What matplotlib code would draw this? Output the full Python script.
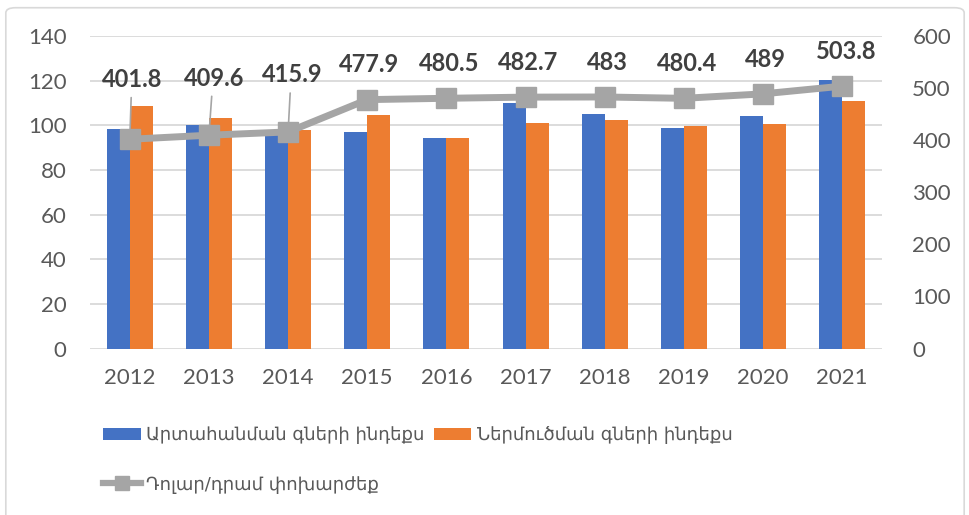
import matplotlib.pyplot as plt
from matplotlib.patches import FancyBboxPatch
from matplotlib.lines import Line2D
import numpy as np

years = ['2012', '2013', '2014', '2015', '2016', '2017', '2018', '2019', '2020', '2021']
export_idx = [98.2, 100.0, 95.8, 97.1, 94.1, 109.8, 105.2, 98.7, 104.4, 120.2]
import_idx = [108.5, 103.4, 97.7, 104.6, 94.1, 101.1, 102.3, 99.9, 100.5, 110.9]
usd_amd = [401.8, 409.6, 415.9, 477.9, 480.5, 482.7, 483, 480.4, 489, 503.8]
rate_labels = ['401.8', '409.6', '415.9', '477.9', '480.5', '482.7', '483', '480.4', '489', '503.8']

legend_names = ['Արտահանման գների ինդեքս', 'Ներմուծման գների ինդեքս', 'Դոլար/դրամ փոխարժեք']

blue = '#4472C4'
orange = '#ED7D31'
gray = '#A5A5A5'
txt = '#595959'

plt.rcParams['font.family'] = ['Lato', 'DejaVu Sans']

fig = plt.figure(figsize=(9.7, 5.15), dpi=100)
ax = fig.add_axes([0.093, 0.3233, 0.816, 0.6067])
ax2 = ax.twinx()

x = np.arange(len(years))
w = 0.29
b1 = ax.bar(x - w / 2, export_idx, w, color=blue, zorder=2)
b2 = ax.bar(x + w / 2, import_idx, w, color=orange, zorder=2)

ax.set_ylim(0, 140)
ax.set_yticks(range(0, 141, 20))
ax.set_xlim(-0.5, len(years) - 0.5)
ax.set_xticks(x)
ax.set_xticklabels(years)
ax.grid(axis='y', color='#D9D9D9', linewidth=1.3, zorder=0)
ax.set_axisbelow(True)
for s in ax.spines.values():
    s.set_visible(False)
for s in ax2.spines.values():
    s.set_visible(False)
ax.tick_params(length=0, labelsize=16, labelcolor=txt)
ax.tick_params(axis='y', pad=17)
ax.tick_params(axis='x', pad=14)

ax2.plot(x, usd_amd, color=gray, linewidth=5, marker='s', markersize=15, zorder=3)
ax2.set_ylim(0, 600)
ax2.set_yticks(range(0, 601, 100))
ax2.tick_params(length=0, labelsize=16, labelcolor=txt, pad=22)

# data labels; first three pulled up with leader lines
offsets = [(2, 43), (4, 41), (3, 41), (1, 25), (2, 25), (2, 25), (2, 25), (2, 25), (2, 25), (3, 25)]
for i, (v, lab) in enumerate(zip(usd_amd, rate_labels)):
    dx, dy = offsets[i]
    ax2.annotate(lab, (x[i], v), xytext=(dx, dy), textcoords='offset points',
                 ha='center', va='center', fontsize=17, fontweight='bold', color='#404040', zorder=5)
    if i < 3:
        ax2.annotate('', (x[i], v), xytext=(dx * 0.5, dy - 13), textcoords='offset points',
                     arrowprops=dict(arrowstyle='-', color=gray, lw=1.2, shrinkA=0, shrinkB=0), zorder=4)

line_handle = Line2D([], [], color=gray, linewidth=4.5, marker='s', markersize=10)
fig.legend([b1, line_handle, b2], [legend_names[0], legend_names[2], legend_names[1]],
           ncol=2, loc='upper left', bbox_to_anchor=(0.106, 0.173), frameon=False,
           prop=dict(family='DejaVu Sans', size=13), labelcolor=txt,
           handlelength=2.1, handleheight=0.65, handletextpad=0.3,
           columnspacing=0.5, labelspacing=1.75, borderpad=0, borderaxespad=0)

fig.patches.append(FancyBboxPatch((0.006, -0.05), 0.988, 1.035, boxstyle='round,pad=0,rounding_size=0.01',
                                  transform=fig.transFigure, facecolor='none', edgecolor='#D9D9D9', lw=1.2))

fig.savefig('out.png', dpi=100)
